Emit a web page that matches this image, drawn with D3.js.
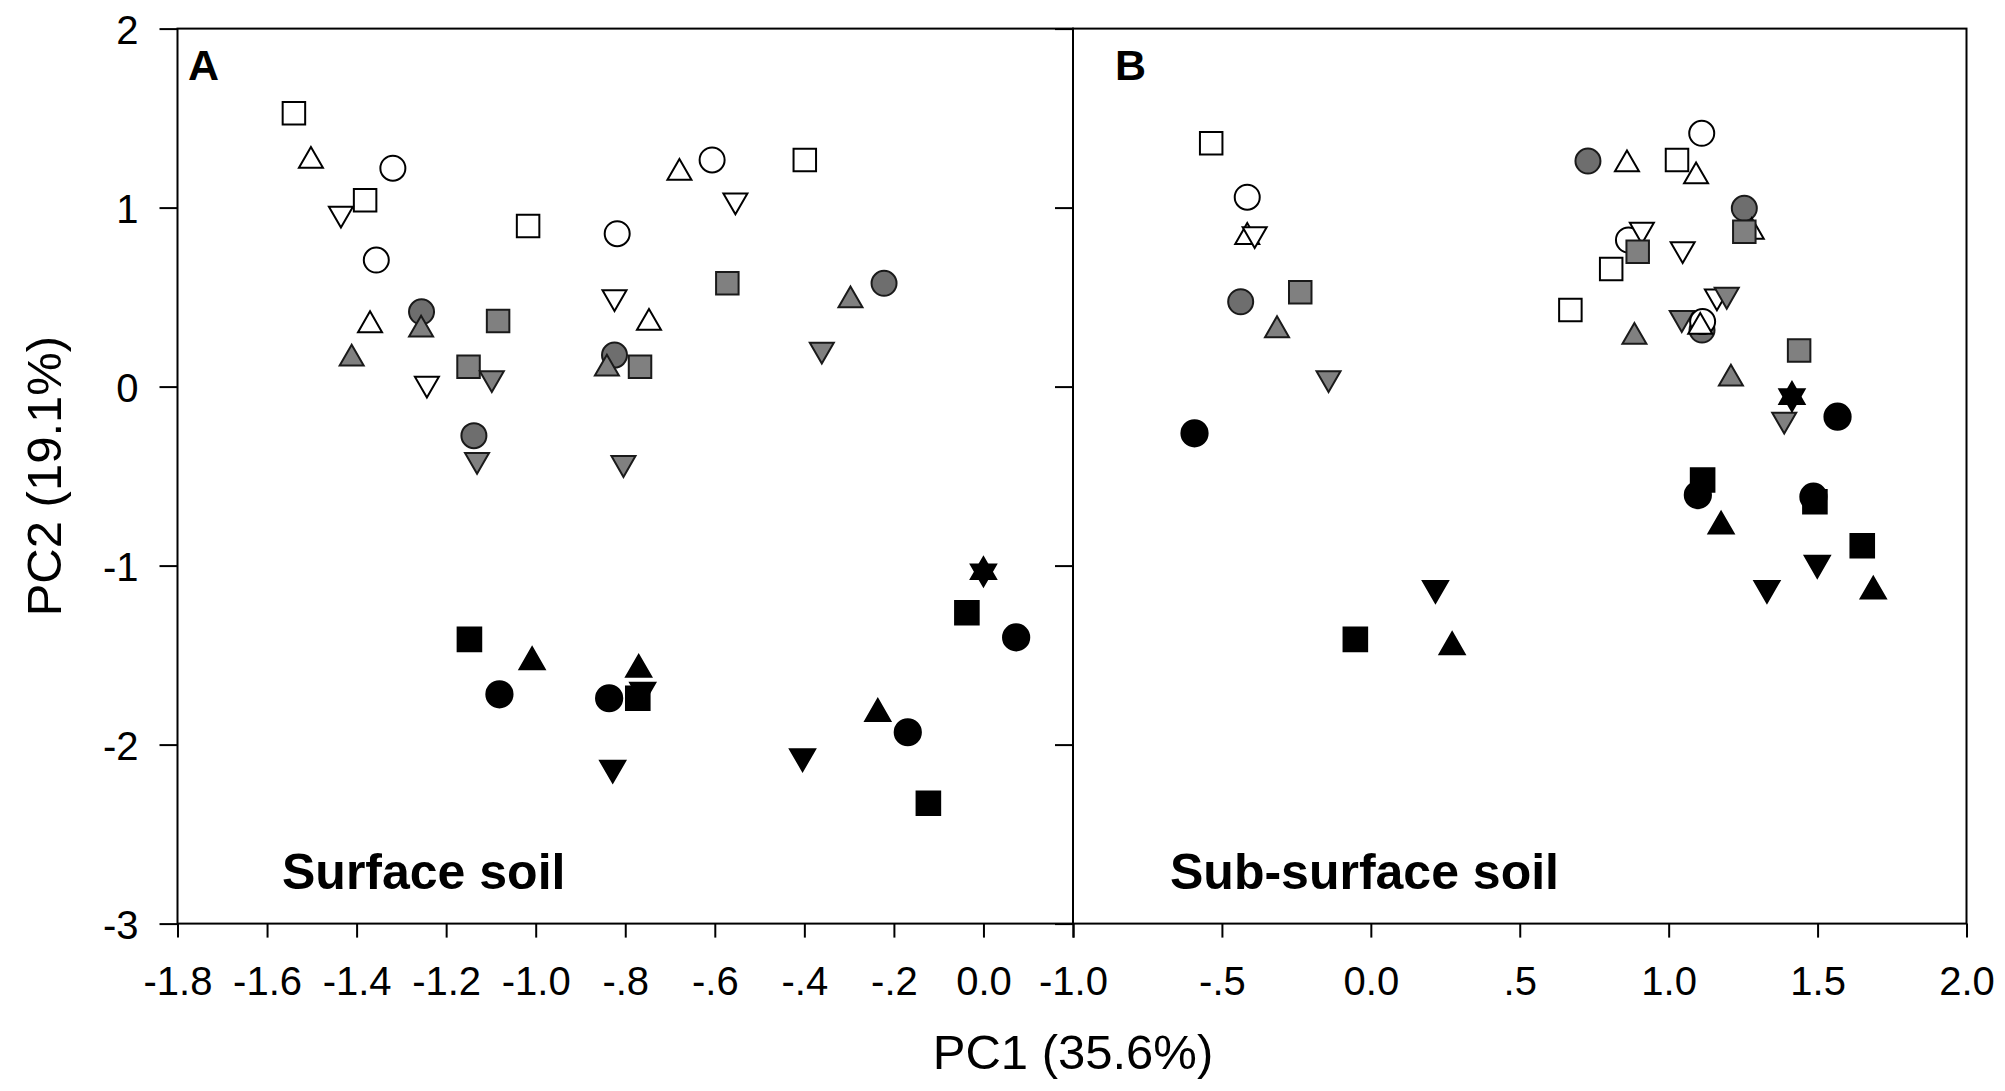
<!DOCTYPE html>
<html>
<head>
<meta charset="utf-8">
<script src="https://cdn.jsdelivr.net/npm/d3@7"></script>
<style>
    html, body { margin: 0; padding: 0; background: #fff; }
    svg { display: block; }
    text { font-family: "Liberation Sans", Arial, sans-serif; fill: #000; }
</style>
</head>
<body>
<div class="chartDiv"></div>
<script>
"use strict";

//
/* Data: */
//

// Tick values and labels
var yTicks = [2, 1, 0, -1, -2, -3];
var xTicksA = [-1.8, -1.6, -1.4, -1.2, -1.0, -0.8, -0.6, -0.4, -0.2, 0.0, 0.2];
var xLabelsA = ["-1.8", "-1.6", "-1.4", "-1.2", "-1.0", "-.8", "-.6", "-.4", "-.2", "0.0", ""];
var xTicksB = [-1.0, -0.5, 0.0, 0.5, 1.0, 1.5, 2.0];
var xLabelsB = ["-1.0", "-.5", "0.0", ".5", "1.0", "1.5", "2.0"];

var panelLetters = ["A", "B"];
var panelNames = ["Surface soil", "Sub-surface soil"];
var xTitle = "PC1 (35.6%)";
var yTitle = "PC2 (19.1%)";

// [shape, fill, PC1, PC2] in drawing order
var surfacePoints = [
    ["circle", "gray", -1.255, 0.418],
    ["circle", "gray", -1.138, -0.274],
    ["circle", "gray", -0.824, 0.176],
    ["circle", "gray", -0.222, 0.577],
    ["circle", "open", -1.319, 1.220],
    ["circle", "open", -1.356, 0.707],
    ["circle", "open", -0.818, 0.854],
    ["circle", "open", -0.606, 1.266],
    ["circle", "black", -1.081, -1.719],
    ["circle", "black", -0.836, -1.741],
    ["circle", "black", -0.169, -1.931],
    ["circle", "black", 0.073, -1.401],
    ["triangleDown", "black", -0.761, -1.695],
    ["square", "open", -1.540, 1.527],
    ["square", "open", -1.381, 1.041],
    ["square", "open", -1.017, 0.897],
    ["square", "open", -0.399, 1.266],
    ["square", "gray", -1.084, 0.366],
    ["square", "gray", -1.150, 0.111],
    ["square", "gray", -0.767, 0.111],
    ["square", "gray", -0.572, 0.577],
    ["square", "black", -1.148, -1.412],
    ["square", "black", -0.772, -1.741],
    ["square", "black", -0.123, -2.328],
    ["square", "black", -0.037, -1.263],
    ["triangleUp", "open", -1.502, 1.261],
    ["triangleUp", "open", -1.370, 0.343],
    ["triangleUp", "open", -0.679, 1.194],
    ["triangleUp", "open", -0.747, 0.356],
    ["triangleUp", "gray", -1.256, 0.319],
    ["triangleUp", "gray", -1.411, 0.156],
    ["triangleUp", "gray", -0.841, 0.101],
    ["triangleUp", "gray", -0.297, 0.482],
    ["triangleUp", "black", -1.008, -1.538],
    ["triangleUp", "black", -0.770, -1.581],
    ["triangleUp", "black", -0.236, -1.827],
    ["triangleUp", "black", 0.000, -1.034],
    ["triangleDown", "open", -1.435, 0.966],
    ["triangleDown", "open", -1.243, 0.016],
    ["triangleDown", "open", -0.824, 0.500],
    ["triangleDown", "open", -0.554, 1.040],
    ["triangleDown", "gray", -1.098, 0.047],
    ["triangleDown", "gray", -1.131, -0.409],
    ["triangleDown", "gray", -0.804, -0.427],
    ["triangleDown", "gray", -0.361, 0.206],
    ["triangleDown", "black", -0.828, -2.131],
    ["triangleDown", "black", -0.404, -2.066],
    ["triangleDown", "black", 0.000, -1.034]
];

var subsurfacePoints = [
    ["circle", "gray", 0.729, 1.260],
    ["circle", "gray", 1.254, 0.996],
    ["circle", "gray", 1.112, 0.316],
    ["circle", "gray", -0.437, 0.474],
    ["circle", "open", -0.415, 1.058],
    ["circle", "open", 1.111, 1.415],
    ["circle", "open", 0.865, 0.819],
    ["circle", "black", -0.592, -0.261],
    ["circle", "black", 1.567, -0.168],
    ["circle", "black", 1.098, -0.606],
    ["circle", "black", 1.486, -0.615],
    ["triangleUp", "open", 1.279, 0.864],
    ["square", "open", -0.536, 1.359],
    ["square", "open", 1.028, 1.266],
    ["square", "open", 0.807, 0.657],
    ["square", "open", 0.670, 0.428],
    ["square", "gray", 1.254, 0.865],
    ["square", "gray", -0.237, 0.527],
    ["square", "gray", 1.438, 0.201],
    ["square", "black", 1.114, -0.522],
    ["square", "black", 1.491, -0.643],
    ["square", "black", 1.650, -0.889],
    ["square", "black", -0.052, -1.412],
    ["triangleUp", "open", -0.415, 0.836],
    ["triangleUp", "open", 0.860, 1.242],
    ["triangleUp", "open", 1.092, 1.175],
    ["triangleUp", "gray", 0.885, 0.278],
    ["triangleUp", "gray", 1.209, 0.045],
    ["triangleUp", "gray", -0.315, 0.315],
    ["triangleDown", "open", -0.390, 0.852],
    ["triangleDown", "open", 0.910, 0.876],
    ["triangleDown", "open", 1.047, 0.768],
    ["square", "gray", 0.896, 0.754],
    ["triangleDown", "gray", -0.142, 0.047],
    ["triangleDown", "gray", 1.388, -0.185],
    ["triangleDown", "gray", 1.044, 0.383],
    ["circle", "open", 1.114, 0.363],
    ["triangleUp", "open", 1.106, 0.334],
    ["triangleDown", "open", 1.162, 0.504],
    ["triangleDown", "gray", 1.195, 0.513],
    ["triangleUp", "black", 1.176, -0.780],
    ["triangleUp", "black", 1.687, -1.143],
    ["triangleUp", "black", 0.273, -1.454],
    ["triangleUp", "black", 1.414, -0.056],
    ["triangleDown", "black", 1.499, -0.986],
    ["triangleDown", "black", 1.330, -1.126],
    ["triangleDown", "black", 0.217, -1.126],
    ["triangleDown", "black", 1.414, -0.056]
];


//
/* Layout: */
//

var width = 2005;
var height = 1091;

var plotTop = 28.6;
var plotBottom = 923.6;
var leftA = 177.5;
var divider = 1073;
var rightB = 1966.5;

var fillColors = { open: "#ffffff", gray: "#808080", black: "#000000" };
var grayCircle = "#6e6e6e";
var strokeColors = { open: "#000000", gray: "#1a1a1a", black: "#000000" };

var triSide = 24;
var symbolTypes = {
    circle: d3.symbolCircle,
    square: d3.symbolSquare,
    triangleUp: d3.symbolTriangle,
    triangleDown: d3.symbolTriangle
};
var symbolSizes = {
    circle: Math.PI * 12.5 * 12.5,
    square: 22.5 * 22.5,
    triangleUp: Math.sqrt(3) / 4 * triSide * triSide,
    triangleDown: Math.sqrt(3) / 4 * triSide * triSide
};
var blackScale = 1.1;   // solid marks look a little heavier

var y = d3.scaleLinear().domain([-3, 2]).range([plotBottom, plotTop]);
var xA = d3.scaleLinear().domain([-1.8, 0.2]).range([leftA, divider]);
var xB = d3.scaleLinear().domain([-1.0, 2.0]).range([divider, rightB]);

var svg = d3.select(".chartDiv").append("svg")
    .attr("width", width)
    .attr("height", height);

svg.append("rect")
    .attr("width", width)
    .attr("height", height)
    .attr("fill", "#fff");


var styleAxis = function(g)
{
    g.select(".domain").remove();
    g.selectAll(".tick line")
        .attr("stroke", "#000")
        .attr("stroke-width", 2);
    g.selectAll(".tick text")
        .attr("font-size", 40)
        .attr("font-family", "Liberation Sans, Arial, sans-serif")
        .attr("fill", "#000");
}

var drawPanel = function(points, xScale, ticks, labels, index)
{
    // bottom axis
    var gx = svg.append("g")
        .attr("transform", "translate(0," + plotBottom + ")")
        .call(d3.axisBottom(xScale)
            .tickValues(ticks)
            .tickSize(14)
            .tickSizeOuter(0)
            .tickFormat(function(d, i) { return labels[i]; }));
    styleAxis(gx);
    gx.selectAll(".tick text").attr("y", 71).attr("dy", null);

    // left axis (labels only on the first panel)
    var gy = svg.append("g")
        .attr("transform", "translate(" + xScale.range()[0] + ",0)")
        .call(d3.axisLeft(y)
            .tickValues(yTicks)
            .tickSize(18)
            .tickSizeOuter(0)
            .tickFormat(function(d) { return index == 0 ? String(d) : ""; }));
    styleAxis(gy);
    gy.selectAll(".tick text").attr("x", -39).attr("dy", "0.37em");

    // frame
    svg.append("rect")
        .attr("x", xScale.range()[0])
        .attr("y", plotTop)
        .attr("width", xScale.range()[1] - xScale.range()[0])
        .attr("height", plotBottom - plotTop)
        .attr("fill", "none")
        .attr("stroke", "#000")
        .attr("stroke-width", 2);

    // markers
    svg.append("g")
        .attr("class", "markers")
        .selectAll("path")
        .data(points).enter()
        .append("path")
        .attr("d", function(d)
        {
            var s = symbolSizes[d[0]] * (d[1] == "black" ? blackScale : 1);
            return d3.symbol().type(symbolTypes[d[0]]).size(s)();
        })
        .attr("transform", function(d)
        {
            var t = "translate(" + xScale(d[2]) + "," + y(d[3]) + ")";
            if (d[0] == "triangleDown")
                t += " rotate(180)";
            return t;
        })
        .attr("fill", function(d)
        {
            if (d[0] == "circle" && d[1] == "gray")
                return grayCircle;
            return fillColors[d[1]];
        })
        .attr("stroke", function(d) { return strokeColors[d[1]]; })
        .attr("stroke-width", 2)
        .attr("stroke-linejoin", "miter");

    // panel letter and soil name
    var x0 = xScale.range()[0];
    svg.append("text")
        .attr("x", index == 0 ? x0 + 10.5 : x0 + 42)
        .attr("y", 80)
        .attr("font-size", 43)
        .attr("font-weight", "bold")
        .text(panelLetters[index]);

    svg.append("text")
        .attr("x", index == 0 ? x0 + 104.5 : x0 + 97)
        .attr("y", 889)
        .attr("font-size", 50)
        .attr("font-weight", "bold")
        .text(panelNames[index]);
}

drawPanel(surfacePoints, xA, xTicksA, xLabelsA, 0);
drawPanel(subsurfacePoints, xB, xTicksB, xLabelsB, 1);

// axis titles
svg.append("text")
    .attr("x", divider)
    .attr("y", 1069)
    .attr("text-anchor", "middle")
    .attr("font-size", 49)
    .text(xTitle);

svg.append("text")
    .attr("transform", "translate(61," + ((plotTop + plotBottom) / 2) + ") rotate(-90)")
    .attr("text-anchor", "middle")
    .attr("font-size", 49)
    .text(yTitle);
</script>
</body>
</html>
